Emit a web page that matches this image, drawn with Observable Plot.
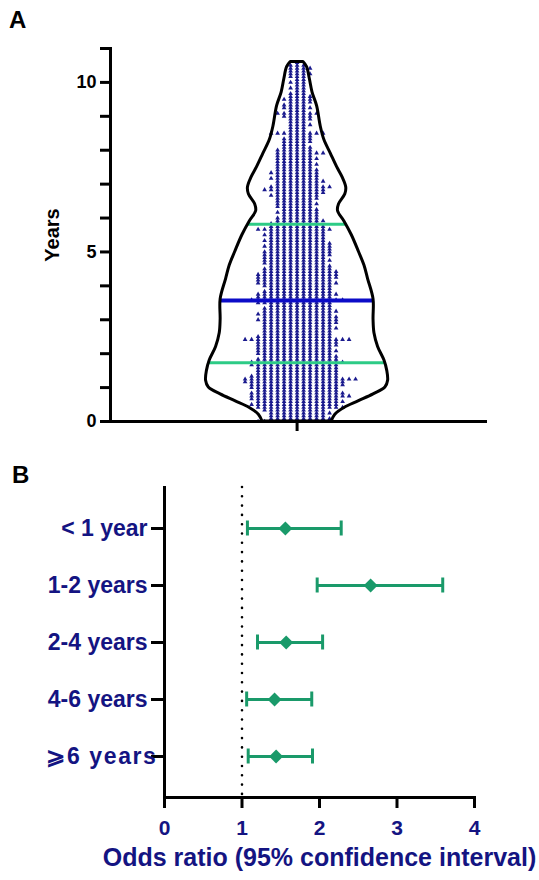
<!DOCTYPE html>
<html><head><meta charset="utf-8">
<script src="https://cdn.jsdelivr.net/npm/d3@7"></script>
<script src="https://cdn.jsdelivr.net/npm/@observablehq/plot@0.6"></script>
<style>
html,body{margin:0;padding:0;background:#fff;}
#wrap{position:relative;width:539px;height:880px;font-family:"Liberation Sans",Arial,sans-serif;overflow:hidden;}
.panel{position:absolute;font-weight:bold;font-size:24px;line-height:24px;color:#000;}
svg{display:block;}
</style></head><body>
<div id="wrap">
  <div id="plotA"></div>
  <div id="plotB"></div>
  <div class="panel" style="left:9px;top:8px">A</div>
  <div class="panel" style="left:12px;top:463px">B</div>
</div>
<script>
// ---------- Panel A data ----------
// violin outline: years and relative density (half-width)
const violinYears   = [0, 0.2, 0.4, 0.6, 0.8, 1.0, 1.2, 1.5, 1.8, 2.2, 2.6, 3.0, 3.6, 4.2, 4.6, 5.0, 5.5, 5.9, 6.2, 6.4, 6.7, 6.9, 7.2, 7.5, 7.9, 8.3, 8.7, 9.3, 9.7, 10.1, 10.45, 10.6];
const violinDensity = [0.38, 0.42, 0.52, 0.68, 0.84, 0.97, 1.0, 0.99, 0.96, 0.89, 0.85, 0.84, 0.84, 0.78, 0.74, 0.68, 0.6, 0.52, 0.45, 0.46, 0.53, 0.54, 0.5, 0.44, 0.37, 0.30, 0.26, 0.22, 0.17, 0.14, 0.11, 0.07];
// number of children per month of follow-up (index = month, 0..127)
const pointsPerMonth = [
  12, 10, 9, 10, 10, 14, 14, 14, 14, 16, 15, 13,   // year 0
  14, 15, 16, 18, 14, 13, 13, 13, 14, 15, 13, 12,  // year 1
  12, 13, 12, 13, 13, 17, 12, 11, 11, 12, 11, 12,  // year 2
  13, 12, 12, 12, 11, 10, 12, 15, 12, 13, 11, 10,  // year 3
  11, 13, 12, 13, 13, 12, 11, 10, 10, 11, 10, 11,  // year 4
  11, 10, 11, 10, 10, 9, 10, 9, 12, 9, 8, 8,       // year 5
  7, 6, 7, 6, 6, 7, 6, 7, 8, 8, 10, 10,            // year 6
  7, 8, 8, 7, 8, 7, 6, 7, 6, 7, 6, 8,              // year 7
  6, 5, 4, 5, 5, 4, 9, 3, 3, 4, 3, 4,              // year 8
  5, 7, 3, 5, 4, 4, 5, 4, 3, 2, 3, 2,              // year 9
  3, 2, 3, 4, 3, 4, 3, 1                           // year 10
];
const quartileYears = [1.73, 5.82];
const medianYears = [3.57];
const yTicksA = [0, 1, 2, 3, 4, 5, 6, 7, 8, 9, 10, 11];
const yLabelA = "Years";

// ---------- Panel B data ----------
const groups    = ["< 1 year", "1-2 years", "2-4 years", "4-6 years", "⩾6 years"];
const oddsRatio = [1.56, 2.66, 1.57, 1.42, 1.44];
const ciLow     = [1.07, 1.97, 1.20, 1.06, 1.08];
const ciHigh    = [2.28, 3.59, 2.04, 1.90, 1.91];
const xTicksB   = [0, 1, 2, 3, 4];
const xTitleB   = "Odds ratio (95% confidence interval)";

// ---------- styles ----------
const font = "Liberation Sans, Arial, sans-serif";
const navyText = "#141482";
const navyPts = "#1a1a8e";
const blueMed = "#0c0cc8";
const greenQ = "#2dcb86";
const greenF = "#1a9a6a";

// ---------- Panel A ----------
const spacing = 0.0714;
const pts = [];
pointsPerMonth.forEach((n, m) => {
  for (let i = 0; i < n; i++) {
    let k = i - Math.floor(n / 2);
    if (m % 2 === 1) k = -k;
    pts.push({years: m / 12, slot: k});
  }
});
const violin = violinYears.map((y, i) => ({years: y, w: violinDensity[i]}));
const halfAt = d3.scaleLinear(violinYears, violinDensity);

const plotA = Plot.plot({
  width: 539, height: 440,
  marginLeft: 110, marginRight: 54, marginTop: 48, marginBottom: 19,
  x: {domain: [-2.05, 2.07]},
  y: {domain: [0, 11]},
  style: {fontFamily: font, background: "white", overflow: "visible"},
  marks: [
    Plot.dot(pts, {x: d => d.slot * spacing, y: "years", symbol: "triangle", r: 1.75, fill: navyPts, stroke: "none"}),
    Plot.ruleY(quartileYears, {y: d => d, x1: d => -halfAt(d), x2: d => halfAt(d), stroke: greenQ, strokeWidth: 3}),
    Plot.ruleY(medianYears, {y: d => d, x1: d => -halfAt(d), x2: d => halfAt(d), stroke: blueMed, strokeWidth: 4}),
    Plot.areaX(violin, {y: "years", x1: d => -d.w, x2: d => d.w, fill: "none", stroke: "black", strokeWidth: 3, curve: "catmull-rom"}),
    Plot.axisY({ticks: yTicksA, tickSize: 10, tickPadding: 4, tickFormat: d => d % 5 === 0 ? String(d) : "", strokeWidth: 3, stroke: "black", fill: "black", fontSize: 18, fontWeight: "bold", label: null}),
    Plot.axisX({ticks: [0], tickSize: 10, tickFormat: () => "", strokeWidth: 3, stroke: "black", label: null}),
    Plot.frame({anchor: "left", stroke: "black", strokeWidth: 3, strokeLinecap: "square"}),
    Plot.frame({anchor: "bottom", stroke: "black", strokeWidth: 3, strokeLinecap: "square"}),
    Plot.text([yLabelA], {text: d => d, frameAnchor: "left", textAnchor: "middle", dx: -58, rotate: -90, fontSize: 20, fontWeight: "bold", fill: "black"})
  ]
});
document.getElementById("plotA").appendChild(plotA);

// ---------- Panel B ----------
const rowsB = groups.map((g, i) => ({label: g, or: oddsRatio[i], lo: ciLow[i], hi: ciHigh[i]}));
const plotB = Plot.plot({
  width: 539, height: 440,
  marginLeft: 164, marginRight: 65, marginTop: 47, marginBottom: 83,
  x: {domain: [0, 4]},
  y: {type: "point", domain: groups, padding: 0.69},
  style: {fontFamily: font, background: "white", overflow: "visible"},
  marks: [
    Plot.ruleX([1], {stroke: "black", strokeWidth: 2.6, strokeDasharray: "0,9.3", strokeLinecap: "round"}),
    Plot.ruleY(rowsB, {y: "label", x1: "lo", x2: "hi", stroke: greenF, strokeWidth: 3}),
    Plot.ruleX(rowsB, {x: "lo", y1: "label", y2: "label", insetTop: -7.5, insetBottom: -7.5, stroke: greenF, strokeWidth: 3}),
    Plot.ruleX(rowsB, {x: "hi", y1: "label", y2: "label", insetTop: -7.5, insetBottom: -7.5, stroke: greenF, strokeWidth: 3}),
    Plot.dot(rowsB, {x: "or", y: "label", symbol: "diamond2", r: 6.3, fill: greenF, stroke: "none"}),
    Plot.axisX({ticks: xTicksB, tickSize: 11, tickPadding: 12, tickFormat: d => String(d), strokeWidth: 3, stroke: "black", fill: navyText, fontSize: 21, fontWeight: "bold", label: null}),
    Plot.axisY({tickSize: 13, tickFormat: () => "", strokeWidth: 3, stroke: "black", label: null}),
    Plot.text(rowsB.slice(0, 4), {y: "label", text: "label", frameAnchor: "left", dx: -17, textAnchor: "end", fontSize: 23, fontWeight: "bold", fill: navyText}),
    Plot.text(rowsB.slice(4), {y: "label", text: "label", frameAnchor: "left", dx: -7, textAnchor: "end", fontSize: 23, fontWeight: "bold", fill: navyText}),
    Plot.frame({anchor: "left", stroke: "black", strokeWidth: 3, strokeLinecap: "square"}),
    Plot.frame({anchor: "bottom", stroke: "black", strokeWidth: 3, strokeLinecap: "square"}),
    Plot.text([xTitleB], {text: d => d, frameAnchor: "bottom", dy: 68, fontSize: 25, fontWeight: "bold", fill: navyText})
  ]
});
document.getElementById("plotB").appendChild(plotB);
d3.select(plotB).selectAll("text").filter(function() { return this.textContent.startsWith("⩾"); })
  .attr("letter-spacing", "1.6px");
</script>
</body></html>
